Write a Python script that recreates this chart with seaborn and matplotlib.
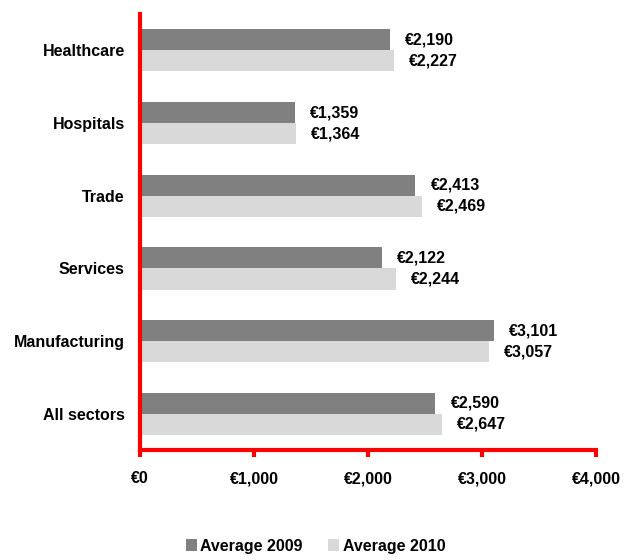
import seaborn as sns
import matplotlib.pyplot as plt
import pandas as pd

sectors = ["Healthcare", "Hospitals", "Trade", "Services", "Manufacturing", "All sectors"]
avg_2009 = [2190, 1359, 2413, 2122, 3101, 2590]
avg_2010 = [2227, 1364, 2469, 2244, 3057, 2647]
series = ["Average 2009", "Average 2010"]
x_ticks = [0, 1000, 2000, 3000, 4000]


def main():
    sns.set_style("white")
    plt.rcParams["font.family"] = ["Liberation Sans", "DejaVu Sans"]
    plt.rcParams["text.color"] = "black"
    plt.rcParams["xtick.color"] = "black"
    plt.rcParams["ytick.color"] = "black"

    df = pd.DataFrame({
        "sector": sectors * 2,
        "value": avg_2009 + avg_2010,
        "series": [series[0]] * len(sectors) + [series[1]] * len(sectors),
    })

    fs = 11.5
    fig = plt.figure(figsize=(6.31, 5.6), dpi=100)
    ax = fig.add_axes([0.222, 0.196, 0.723, 0.779])
    sns.barplot(
        data=df, y="sector", x="value", hue="series", order=sectors,
        hue_order=series, palette=["#808080", "#d9d9d9"], orient="h",
        width=0.58, ax=ax, errorbar=None, saturation=1, linewidth=0,
    )

    for cont in ax.containers:
        ax.bar_label(cont, labels=["\u20ac{:,.0f}".format(v) for v in cont.datavalues],
                     padding=11, fontsize=fs, fontweight="bold")

    ax.set_xlim(0, 4000)
    ax.set_ylim(5.5, -0.5)
    ax.set_xticks(x_ticks)
    ax.set_xticklabels(["\u20ac{:,}".format(t) for t in x_ticks], fontsize=fs, fontweight="bold")
    ax.tick_params(axis="x", direction="out", length=5, width=3, color="red", pad=10, bottom=True)
    ax.tick_params(axis="y", length=0, pad=11)
    for lab in ax.get_yticklabels():
        lab.set_fontweight("bold")
        lab.set_fontsize(fs)
    ax.set_xlabel("")
    ax.set_ylabel("")
    for side in ["top", "right"]:
        ax.spines[side].set_visible(False)
    for side in ["left", "bottom"]:
        ax.spines[side].set_color("red")
        ax.spines[side].set_linewidth(3)

    handles, labels = ax.get_legend_handles_labels()
    ax.legend_.remove()
    fig.legend(handles, labels, loc="center", bbox_to_anchor=(0.5, 0.025), ncol=2,
               frameon=False, prop={"weight": "bold", "size": fs}, handlelength=0.7,
               handleheight=0.7, handletextpad=0.2, columnspacing=1.6)

    fig.savefig("out.png", dpi=100)


if __name__ == "__main__":
    main()
